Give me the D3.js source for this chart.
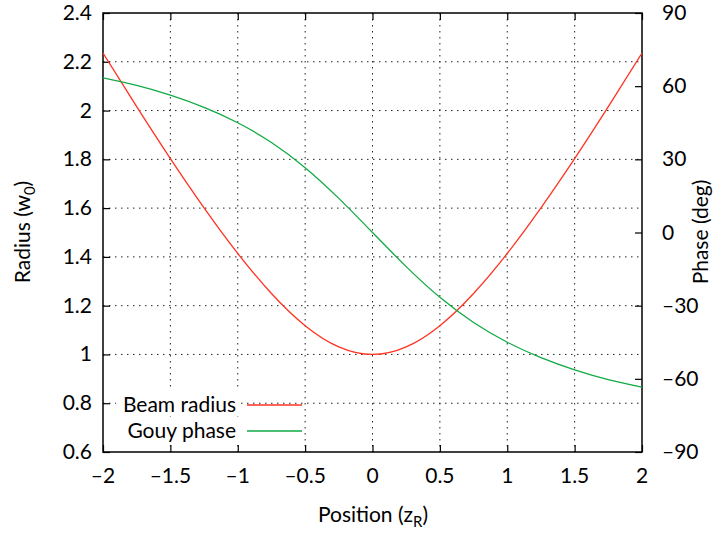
<!DOCTYPE html>
<html>
<head>
<script src="https://d3js.org/d3.v7.min.js"></script>
<style>
  body { margin: 0; background: #fff; }
  svg { display: block; font-family: Lato, "DejaVu Sans", sans-serif; }
  .grid line { stroke: #222; stroke-width: 1; stroke-dasharray: 1.5,4.5; }
</style>
</head>
<body>
<script>
// positions along the beam, in Rayleigh lengths
const positions = [-2, -1.75, -1.5, -1.25, -1, -0.75, -0.5, -0.25, 0, 0.25, 0.5, 0.75, 1, 1.25, 1.5, 1.75, 2];
// beam radius, in units of w0
const radius = [2.236, 2.016, 1.803, 1.601, 1.414, 1.250, 1.118, 1.031, 1.000, 1.031, 1.118, 1.250, 1.414, 1.601, 1.803, 2.016, 2.236];
// Gouy phase, degrees
const phase = [63.4, 60.3, 56.3, 51.3, 45.0, 36.9, 26.6, 14.0, 0, -14.0, -26.6, -36.9, -45.0, -51.3, -56.3, -60.3, -63.4];

const xTicks = [-2, -1.5, -1, -0.5, 0, 0.5, 1, 1.5, 2];
const yTicks = [0.6, 0.8, 1, 1.2, 1.4, 1.6, 1.8, 2, 2.2, 2.4];
const y2Ticks = [-90, -60, -30, 0, 30, 60, 90];

const W = 724, H = 534;
const pL = 103, pR = 642, pT = 13, pB = 452;
const fmt = v => String(v).replace("-", "\u2013");

const svg = d3.select("body").append("svg").attr("width", W).attr("height", H);

const x = d3.scaleLinear().domain([-2, 2]).range([pL, pR]);
const y = d3.scaleLinear().domain([0.6, 2.4]).range([pB, pT]);
const y2 = d3.scaleLinear().domain([-90, 90]).range([pB, pT]);

// grid
const grid = svg.append("g").attr("class", "grid");
grid.selectAll(".gx").data(xTicks.slice(1, -1)).join("line")
  .attr("x1", d => x(d)).attr("x2", d => x(d)).attr("y1", pT).attr("y2", pB);
grid.selectAll(".gy").data(yTicks.slice(1, -1)).join("line")
  .attr("x1", pL).attr("x2", pR).attr("y1", d => y(d)).attr("y2", d => y(d));

// axes, ticks pointing inward
const tickLen = 7;
const bx = svg.append("g").attr("transform", `translate(0,${pB})`)
  .call(d3.axisTop(x).tickValues(xTicks).tickSize(tickLen).tickFormat(""));
const tx = svg.append("g").attr("transform", `translate(0,${pT})`)
  .call(d3.axisBottom(x).tickValues(xTicks).tickSize(tickLen).tickFormat(""));
const ly = svg.append("g").attr("transform", `translate(${pL},0)`)
  .call(d3.axisRight(y).tickValues(yTicks).tickSize(tickLen).tickFormat(""));
const ry = svg.append("g").attr("transform", `translate(${pR},0)`)
  .call(d3.axisLeft(y2).tickValues(y2Ticks).tickSize(tickLen).tickFormat(""));
[bx, tx, ly, ry].forEach(g => {
  g.select(".domain").remove();
  g.selectAll("line").attr("stroke", "#000").attr("stroke-width", 1.2);
});

// tick labels
const fs = 21;
svg.append("g").selectAll("text").data(xTicks).join("text")
  .attr("x", d => x(d)).attr("y", pB + 31)
  .attr("text-anchor", "middle").attr("font-size", fs).text(fmt);
svg.append("g").selectAll("text").data(yTicks).join("text")
  .attr("x", pL - 11).attr("y", d => y(d) + 7)
  .attr("text-anchor", "end").attr("font-size", fs).text(fmt);
svg.append("g").selectAll("text").data(y2Ticks).join("text")
  .attr("x", pR + 20).attr("y", d => y2(d) + 7)
  .attr("text-anchor", "start").attr("font-size", fs).text(fmt);

// frame
svg.append("rect").attr("x", pL).attr("y", pT)
  .attr("width", pR - pL).attr("height", pB - pT)
  .attr("fill", "none").attr("stroke", "#000").attr("stroke-width", 1.5);

// curves
const pts = positions.map((p, i) => ({ p, r: radius[i], g: phase[i] }));
svg.append("clipPath").attr("id", "c").append("rect")
  .attr("x", pL).attr("y", pT).attr("width", pR - pL).attr("height", pB - pT);
svg.append("path").datum(pts).attr("clip-path", "url(#c)")
  .attr("fill", "none").attr("stroke", "#ff3322").attr("stroke-width", 1.3)
  .attr("d", d3.line().x(d => x(d.p)).y(d => y(d.r)).curve(d3.curveNatural));
svg.append("path").datum(pts).attr("clip-path", "url(#c)")
  .attr("fill", "none").attr("stroke", "#11aa44").attr("stroke-width", 1.3)
  .attr("d", d3.line().x(d => x(d.p)).y(d => y2(d.g)).curve(d3.curveNatural));

// legend
const legend = [["Beam radius", "#ff3322"], ["Gouy phase", "#11aa44"]];
legend.forEach(([name, col], i) => {
  const ly0 = 405 + i * 26;
  svg.append("rect").attr("x", 116).attr("y", ly0 - 14).attr("width", 124).attr("height", 25).attr("fill", "#fff");
  svg.append("text").attr("x", 236).attr("y", ly0 + 7).attr("text-anchor", "end")
    .attr("font-size", fs).text(name);
  svg.append("line").attr("x1", 247).attr("x2", 302).attr("y1", ly0).attr("y2", ly0)
    .attr("stroke", col).attr("stroke-width", 1.3);
});

// axis titles
svg.append("text").attr("x", 373).attr("y", 522).attr("text-anchor", "middle").attr("font-size", fs)
  .html('Position (z<tspan font-size="15" dy="5">R</tspan><tspan dy="-5">)</tspan>');
svg.append("text").attr("transform", "translate(30,232) rotate(-90)").attr("text-anchor", "middle").attr("font-size", fs)
  .html('Radius (w<tspan font-size="15" dy="5">0</tspan><tspan dy="-5">)</tspan>');
svg.append("text").attr("transform", "translate(708,232) rotate(-90)").attr("text-anchor", "middle").attr("font-size", fs)
  .text("Phase (deg)");
</script>
</body>
</html>
